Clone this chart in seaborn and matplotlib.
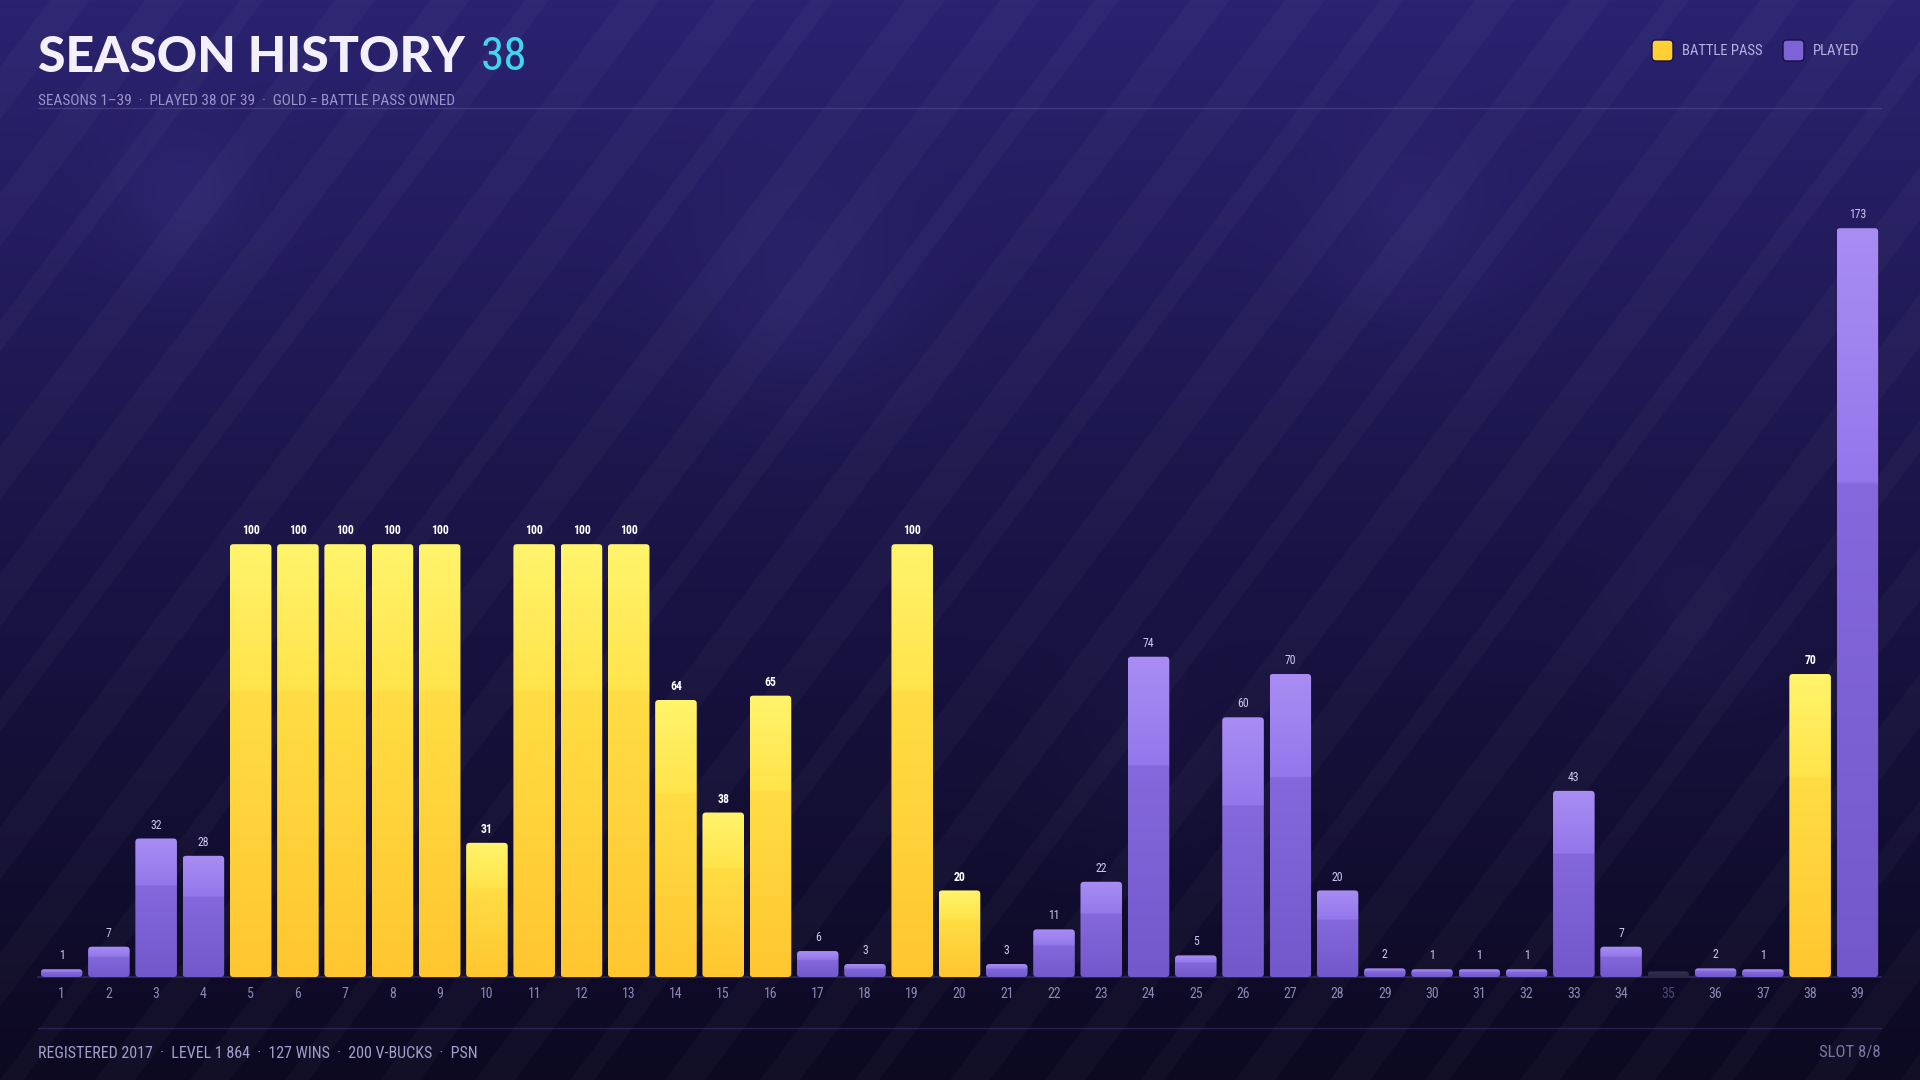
import numpy as np
import pandas as pd
import matplotlib
matplotlib.use('Agg')
import matplotlib.pyplot as plt
import seaborn as sns
from matplotlib.patches import FancyBboxPatch, Polygon
from matplotlib.colors import to_rgb

# data
seasons = list(range(1, 40))
levels = [1, 7, 32, 28, 100, 100, 100, 100, 100, 31, 100, 100, 100, 64, 38, 65,
          6, 3, 100, 20, 3, 11, 22, 74, 5, 60, 70, 20, 2, 1, 1, 1, 43, 7, 0,
          2, 1, 70, 173]
battle_pass = [5, 6, 7, 8, 9, 10, 11, 12, 13, 14, 15, 16, 19, 20, 38]
not_played = [35]

title = 'SEASON HISTORY'
title_count = '38'
subtitle = 'SEASONS 1\u201339  \u00b7  PLAYED 38 OF 39  \u00b7  GOLD = BATTLE PASS OWNED'
footer = 'REGISTERED 2017  \u00b7  LEVEL 1 864  \u00b7  127 WINS  \u00b7  200 V-BUCKS  \u00b7  PSN'
slot = 'SLOT 8/8'

kinds = []
for s in seasons:
    if s in not_played:
        kinds.append('NOT PLAYED')
    elif s in battle_pass:
        kinds.append('BATTLE PASS')
    else:
        kinds.append('PLAYED')

df = pd.DataFrame({'season': seasons, 'level': levels, 'kind': kinds})
# tiny bars still get a visible stub
df['shown'] = np.where(df['level'] == 0, 1.3, np.maximum(df['level'], 1.8))

NARROW = ['Roboto Condensed', 'DejaVu Sans']
W, H = 1920, 1080

sns.set_theme(style='white')
plt.rcParams['font.family'] = NARROW
plt.rcParams['font.stretch'] = 'condensed'

fig = plt.figure(figsize=(19.2, 10.8), dpi=100)

# ---- background ----
bg = fig.add_axes([0, 0, 1, 1], zorder=-1)
bg.set_xlim(0, W)
bg.set_ylim(H, 0)
bg.axis('off')

gy, gx = np.mgrid[0:216, 0:384]
t = gy / 215.0
top = np.array(to_rgb('#2b2270'))
mid = np.array(to_rgb('#1a1447'))
bot = np.array(to_rgb('#0c0921'))
img = np.zeros((216, 384, 3))
for c in range(3):
    img[..., c] = np.where(t < 0.5, top[c] + (mid[c] - top[c]) * (t / 0.5),
                           mid[c] + (bot[c] - mid[c]) * ((t - 0.5) / 0.5))
# soft glows
for cx, cy, r, a in [(180, 200, 70, 0.05), (800, 290, 110, 0.05), (1410, 230, 90, 0.045),
                     (1690, 620, 80, 0.03), (1130, 760, 90, 0.02)]:
    d2 = ((gx * 5 - cx) ** 2 + (gy * 5 - cy) ** 2) / (r ** 2)
    img += a * np.exp(-d2)[..., None] * np.array([0.6, 0.55, 1.0])
bg.imshow(np.clip(img, 0, 1), extent=[0, W, H, 0], aspect='auto', interpolation='bilinear')

# diagonal stripes
slope = 0.75
for k in range(-20, 40):
    x0 = k * 95
    wid = 40 if k % 3 else 24
    pts = [(x0, H), (x0 + wid, H), (x0 + wid + slope * H, 0), (x0 + slope * H, 0)]
    bg.add_patch(Polygon(pts, closed=True, facecolor='white', edgecolor='none', alpha=0.026))

# header / footer rules
bg.plot([38, 1881], [108, 108], color='#5a4f9a', lw=1, alpha=0.55)
bg.plot([38, 1881], [1028, 1028], color='#3a3270', lw=1, alpha=0.6)

# ---- main chart ----
ax = fig.add_axes([38 / W, 1 - 977 / H, (1881 - 38) / W, (977 - 120) / H])
ax.set_facecolor('none')

palette = {'BATTLE PASS': '#ffd43a', 'PLAYED': '#8a6de0', 'NOT PLAYED': '#2c2848'}
sns.barplot(data=df, x='season', y='shown', hue='kind', palette=palette,
            dodge=False, width=0.88, legend=False, ax=ax, order=seasons)

# bottom, just below highlight, top
grad_cols = {
    'BATTLE PASS': ('#ffc630', '#ffdd44', '#fff46c'),
    'PLAYED': ('#7358cc', '#8468dc', '#a98df3'),
    'NOT PLAYED': ('#2a2645', '#2e2a4c', '#34305a'),
}
step = {'BATTLE PASS': 0.025, 'PLAYED': 0.06, 'NOT PLAYED': 0.0}

ppx = (1881 - 38) / 39.0
ppy = (977 - 120) / 198.0


def bar_gradient(kind, n=200):
    c0, c1, c2 = [np.array(to_rgb(c)) for c in grad_cols[kind]]
    tt = np.linspace(0, 1, n)[:, None]
    col = c0 + (c1 - c0) * (tt / 0.66)
    hi = tt[:, 0] > 0.66
    col[hi] = c1 + step[kind] + (c2 - c1 - step[kind]) * ((tt[hi] - 0.66) / 0.34)
    col = np.clip(col, 0, 1)
    return col[:, None, :]


for p in list(ax.patches):
    h = p.get_height()
    if not np.isfinite(h) or h <= 0:
        continue
    x0, w = p.get_x(), p.get_width()
    idx = int(round(x0 + w / 2))
    kind = df['kind'].iloc[idx]
    p.set_visible(False)
    box = FancyBboxPatch((x0, 0), w, h, boxstyle='round,pad=0,rounding_size=%f' % (3.5 / ppx),
                         mutation_aspect=ppx / ppy, facecolor='none', edgecolor='none',
                         transform=ax.transData)
    ax.add_patch(box)
    im = ax.imshow(bar_gradient(kind), extent=[x0, x0 + w, 0, h], origin='lower',
                   aspect='auto', interpolation='bilinear', zorder=3)
    im.set_clip_path(box)

for i, row in df.iterrows():
    if row['kind'] == 'NOT PLAYED':
        continue
    gold = row['kind'] == 'BATTLE PASS'
    ax.text(i, row['shown'] + 1.6, str(row['level']), ha='center', va='bottom',
            fontsize=8.5, color='#ffffff' if gold else '#cfc8f0',
            fontweight='bold' if gold else 'normal', zorder=5)

ax.set_xlim(-0.5, 38.5)
ax.set_ylim(0, 198)
ax.set_xlabel('')
ax.set_ylabel('')
ax.set_yticks([])
ax.tick_params(axis='x', length=0, pad=7, labelsize=10, labelcolor='#8d87b8')
for lab in ax.get_xticklabels():
    if int(lab.get_text()) in not_played:
        lab.set_color('#4d4878')
for sp in ['top', 'right', 'left']:
    ax.spines[sp].set_visible(False)
ax.spines['bottom'].set_color('#2e2960')
ax.spines['bottom'].set_linewidth(1.2)
ax.grid(False)

# ---- titles ----
fig.text(38 / W, 1 - 57 / H, title, fontsize=36, fontweight='black',
         family=['Lato', 'DejaVu Sans'], fontstretch='normal', color='#f3f0fc',
         va='center', ha='left')
fig.text(481 / W, 1 - 57 / H, title_count, fontsize=34, color='#3fd6f0',
         va='center', ha='left')
fig.text(38 / W, 1 - 101 / H, subtitle, fontsize=11, color='#9b93c9', va='center', ha='left')

# ---- legend ----
for sx, label, col in [(1652, 'BATTLE PASS', '#ffcf33'), (1783, 'PLAYED', '#7d62d8')]:
    bg.add_patch(FancyBboxPatch((sx, 40), 21, 21, boxstyle='round,pad=0,rounding_size=4',
                                facecolor=col, edgecolor='#1a1040', linewidth=1))
    fig.text((sx + 30) / W, 1 - 51 / H, label, fontsize=10.5, color='#b9b2e0',
             va='center', ha='left')

# ---- footer ----
fig.text(38 / W, 1 - 1053 / H, footer, fontsize=11.5, color='#a49dcc', va='center', ha='left')
fig.text(1881 / W, 1 - 1053 / H, slot, fontsize=12, color='#7c76a6', va='center', ha='right')

fig.savefig('out.png', dpi=100)
